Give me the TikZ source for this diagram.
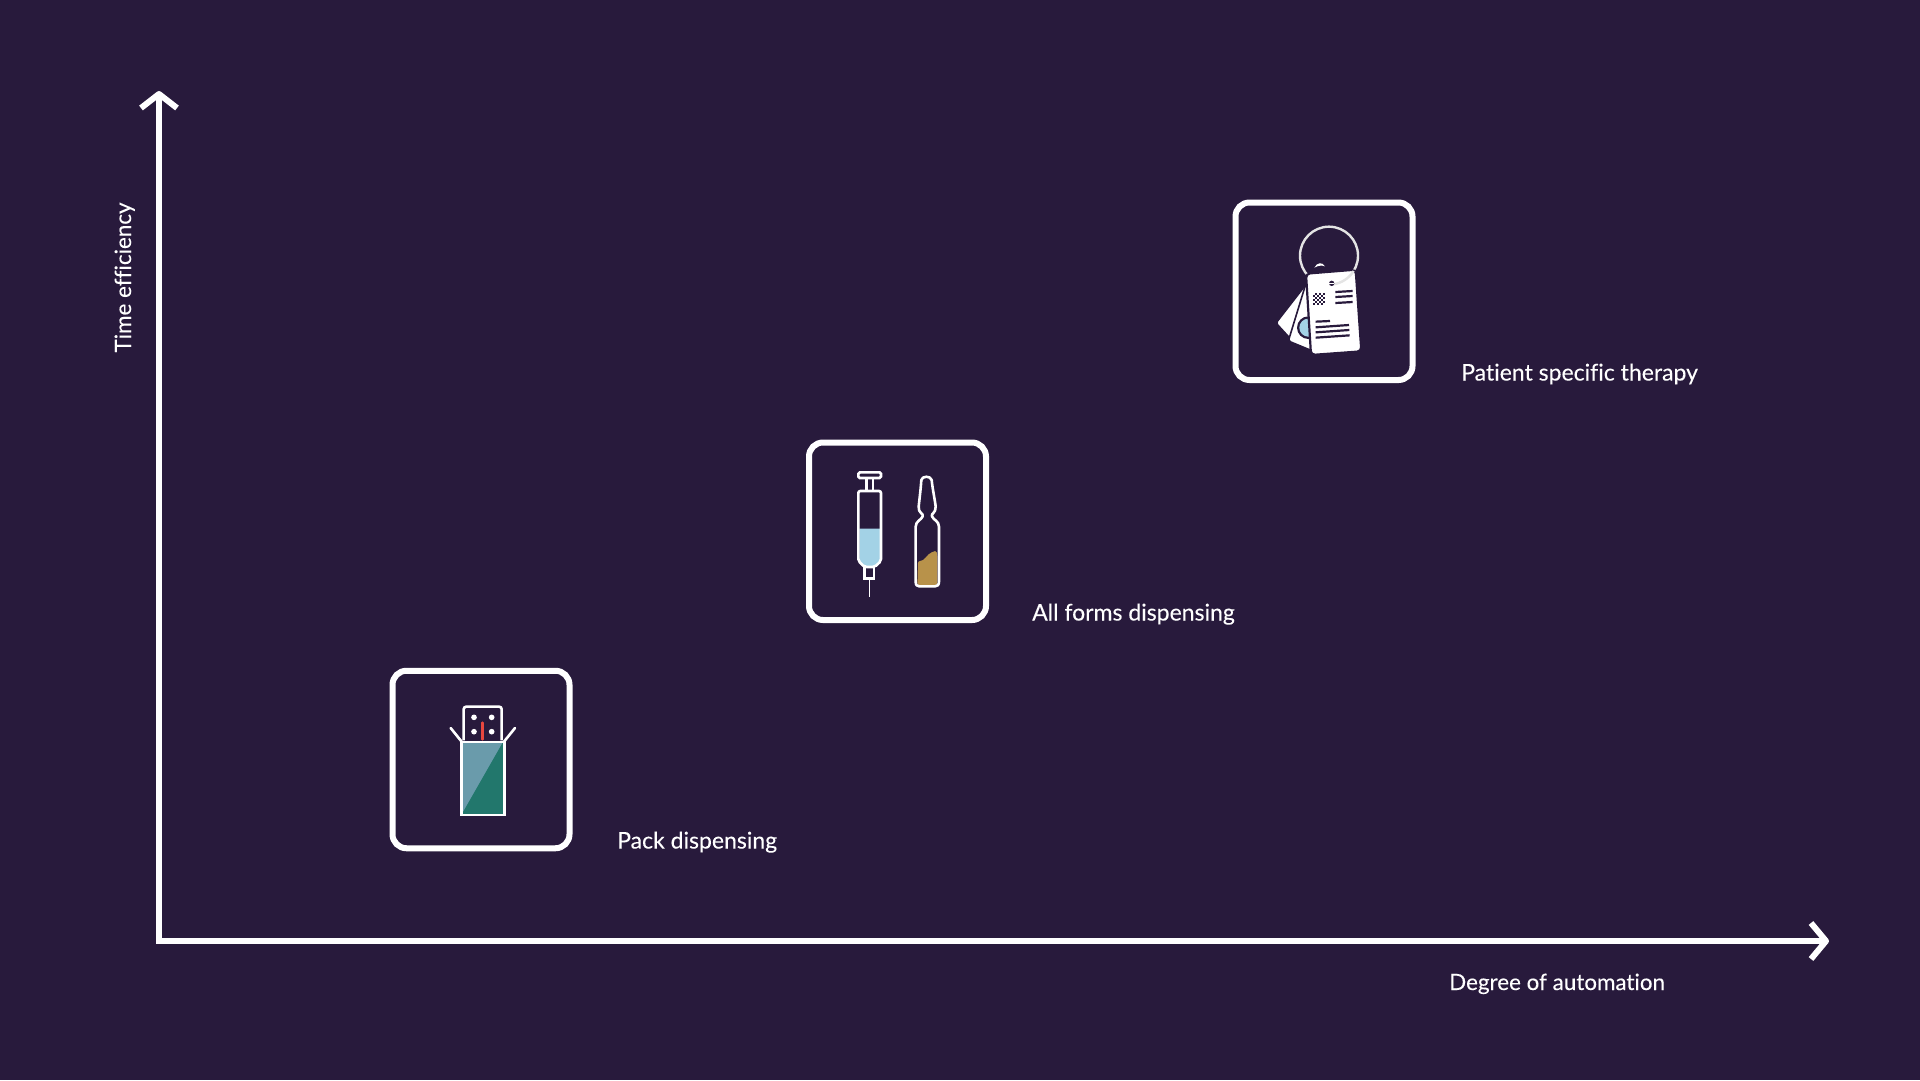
\documentclass[tikz,border=0pt]{standalone}
\usepackage{fontspec}
\setmainfont{Lato}[Ligatures=NoCommon,FakeBold=0.12]
\definecolor{bg}{HTML}{281A3C}
\definecolor{steel}{HTML}{6A9BAB}
\definecolor{teal}{HTML}{22776C}
\definecolor{redline}{HTML}{E8473F}
\definecolor{liquid}{HTML}{A3D2E6}
\definecolor{brownfill}{HTML}{B8924A}
\definecolor{ringgrey}{HTML}{E4E4E4}
\tikzset{
  axisline/.style={draw=white,line width=6pt,line cap=butt},
  axishead/.style={draw=white,line width=6pt,line join=round,line cap=butt},
  iconbox/.style={draw=white,line width=6pt,rounded corners=14pt,minimum width=177pt,minimum height=177.5pt,inner sep=0pt},
  lbl/.style={text=white,font=\fontsize{23}{27}\selectfont,inner sep=0pt,anchor=base west},
  lblsmall/.style={lbl,font=\fontsize{22.4}{27}\selectfont},
  thin/.style={draw=white,line width=2.6pt},
  icon/.style={x=0.33333pt,y=-0.33333pt},
}
\begin{document}
\begin{tikzpicture}[x=1pt,y=-1pt]
\useasboundingbox (0,0) rectangle (1920,1080);
\fill[bg] (0,0) rectangle (1920,1080);
% axes
\coordinate (origin) at (159,941);
\coordinate (ytip) at (159,94);
\coordinate (xtip) at (1826,941);
\coordinate (yl) at (141,108);
\coordinate (yr) at (177,108);
\coordinate (xu) at (1811,923);
\coordinate (xd) at (1811,959);
\draw[axisline,line join=miter] (ytip) -- (origin) -- (xtip);
\draw[axishead] (yl) -- (ytip) -- (yr);
\draw[axishead] (xu) -- (xtip) -- (xd);
\node[lblsmall,anchor=base,rotate=90] (ylabel) at (131,277.5) {Time efficiency};
\node[lblsmall] (xlabel) at (1449,990) {Degree of automation};
% boxes
\node[iconbox] (pack) at (481,759.5) {};
\node[iconbox] (forms) at (897.5,531.25) {};
\node[iconbox] (patient) at (1324,291.25) {};
\node[lbl] (packl) at (617,848.5) {Pack dispensing};
\node[lbl] (formsl) at (1032,620.5) {All forms dispensing};
\node[lbl] (patientl) at (1461,380.5) {Patient specific therapy};
% pack icon
\begin{scope}[shift={(380,660)},icon]
\fill[steel] (243,248) rectangle (373,464);
\fill[teal] (368,248) -- (373,248) -- (373,464) -- (248,464) -- (248,458) -- cycle;
\draw[thin] (244,246) rectangle (373,465);
\draw[thin,rounded corners=2.5pt] (251,241) -- (251,140) -- (365,140) -- (365,241);
\draw[thin,line cap=round] (212,204) -- (245,245);
\draw[thin,line cap=round] (405,204) -- (372,245);
\foreach \px/\py in {282/172,335/172,282/215,335/215}
  \fill[white] (\px,\py) circle (8.5);
\draw[redline,line width=2.6pt,line cap=round] (308,188) -- (308,238);
\end{scope}
% syringe
\begin{scope}[shift={(800,435)},icon]
\fill[liquid] (178,281) -- (240,281) -- (240,378) -- (222,394) -- (196,394) -- (178,378) -- cycle;
\draw[thin,rounded corners=1.5pt] (175,112) rectangle (243,129);
\draw[thin] (199,129) -- (199,168);
\draw[thin] (219,129) -- (219,168);
\draw[thin,rounded corners=2pt] (175,168) -- (243,168) -- (243,378) -- (224,396) -- (194,396) -- (175,378) -- cycle;
\draw[thin] (194,396) -- (194,430) -- (222,430) -- (222,396);
\draw[white,line width=1.5pt] (209,430) -- (209,487);
% ampoule
\fill[brownfill,rounded corners=2pt] (354,378) .. controls (375,378) and (380,358) .. (400,350) .. controls (406,348) and (410,352) .. (412,358) -- (412,450) -- (352,450) -- cycle;
\draw[thin,line join=round] (364,135) .. controls (366,122) and (392,122) .. (395,135)
  .. controls (398,165) and (405,195) .. (407,215)
  .. controls (408,235) and (392,235) .. (396,244)
  .. controls (400,255) and (417,258) .. (417,275)
  -- (417,440) .. controls (417,450) and (412,454) .. (405,454)
  -- (358,454) .. controls (351,454) and (347,450) .. (347,440)
  -- (347,275) .. controls (347,258) and (364,255) .. (368,244)
  .. controls (372,235) and (354,235) .. (356,215)
  .. controls (358,195) and (362,165) .. (364,135) -- cycle;
\end{scope}
% tag icon
\begin{scope}[shift={(1225,195)},icon]
\draw[ringgrey,line width=2.4pt] (312,182) circle (87);
\filldraw[fill=white,draw=bg,line width=1.6pt,rounded corners=2.5pt] (240,272) -- (153,384) -- (195,430) -- (285,320) -- cycle;
\filldraw[fill=white,draw=bg,line width=1.6pt,rounded corners=2.5pt] (242,268) -- (190,438) -- (258,466) -- (300,300) -- cycle;
\begin{scope}
\clip (242,268) -- (190,438) -- (258,466) -- (300,300) -- cycle;
\fill[bg] (250,398) circle (34);
\fill[liquid] (250,398) circle (27);
\end{scope}
\fill[bg] (248,238) -- (262,206) -- (300,200) -- (306,235) -- cycle;
\fill[white] (268,218) .. controls (276,202) and (292,200) .. (300,214) .. controls (290,210) and (278,212) .. (268,218) -- cycle;
\filldraw[fill=white,draw=bg,line width=2.2pt,rounded corners=4pt] (243,236) -- (392,224) -- (409,469) -- (258,480) -- cycle;
\draw[ringgrey,line width=2.4pt] (386,228) .. controls (372,250) and (350,264) .. (325,268);
\fill[bg] (320,265) ellipse (8 and 8);
\fill[white] (312,264.5) rectangle (328,267.5);
\fill[bg] (264,294) rectangle (300,330);
\foreach \qx/\qy in {264/294,276/294,288/294,270/300,282/300,294/300,264/306,276/306,288/306,270/312,282/312,294/312,264/318,276/318,288/318,270/324,282/324,294/324}
  \fill[white] (\qx,\qy) rectangle ++(6,6);
\begin{scope}[line width=2.2pt]
\draw[bg] (331,291) -- (383,288);
\draw[bg] (331,306) -- (383,303);
\draw[bg] (331,324) -- (383,321);
\draw[bg] (272,380) -- (315,378);
\draw[bg] (272,397) -- (372,390);
\draw[bg] (272,412) -- (373,405);
\draw[bg] (272,428) -- (374,421);
\end{scope}
\end{scope}
\end{tikzpicture}
\end{document}
